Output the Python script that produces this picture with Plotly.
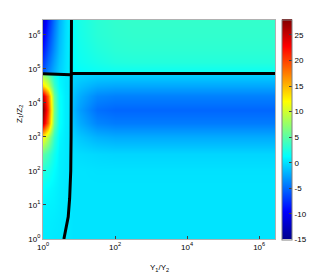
import plotly.graph_objects as go

# log10 positions of the grid (Y1/Y2 along x, Z1/Z2 along y)
x_exp = [0, 0.15, 0.3, 0.45, 0.6, 0.74, 0.82, 1.0, 1.5, 2.0, 2.5, 3.0, 4.0, 5.0, 6.45]
y_exp = [0, 0.5, 1.0, 1.5, 2.0, 2.5, 3.0, 3.4, 3.8, 4.2, 4.5, 4.84, 4.92, 5.2, 5.6, 6.0, 6.45]

z_rows = [
    [0.3, 0.3, 0.2, 0.2, 0.1, 0.1, 0, 0, 0, 0, 0, 0, 0, 0, 0],
    [0.4, 0.4, 0.3, 0.2, 0.1, 0.1, 0, 0, 0, 0, 0, 0, 0, 0, 0],
    [0.7, 0.6, 0.5, 0.3, 0.2, 0.1, 0, 0, 0, 0, 0, 0, 0, 0, 0],
    [1.2, 1.0, 0.7, 0.4, 0.2, 0.1, 0, 0, 0, 0, 0, 0, 0, 0, 0],
    [2.5, 2.0, 1.1, 0.5, 0.2, 0.1, 0, 0, -0.1, -0.1, -0.1, -0.1, -0.1, -0.1, -0.1],
    [5, 3.8, 1.8, 0.6, 0.3, 0.1, -0.2, -0.3, -0.5, -0.6, -0.6, -0.6, -0.6, -0.6, -0.6],
    [12, 8.5, 3.2, 0.9, 0.3, 0.1, -0.8, -1.2, -2.1, -2.4, -2.4, -2.4, -2.4, -2.4, -2.4],
    [25, 18, 5.5, 1.4, 0.4, 0.2, -1.5, -2.3, -4.0, -4.4, -4.4, -4.4, -4.4, -4.4, -4.4],
    [28, 20, 6.0, 1.5, 0.4, 0.2, -1.9, -2.9, -4.9, -5.3, -5.3, -5.3, -5.3, -5.3, -5.3],
    [25, 18, 5.5, 1.4, 0.4, 0.2, -1.5, -2.3, -3.9, -4.2, -4.2, -4.2, -4.2, -4.2, -4.2],
    [13.5, 10, 3.6, 1.0, 0.3, 0.1, -1.0, -1.5, -2.4, -2.6, -2.6, -2.6, -2.6, -2.6, -2.6],
    [7, 5, 2, 0.7, 0.3, 0.1, -0.5, -0.6, -0.8, -0.8, -0.8, -0.8, -0.8, -0.8, -0.8],
    [-6.0, -4.0, -2.2, -0.9, 0.0, 0.6, 1.0, 1.2, 1.5, 1.6, 1.6, 1.6, 1.6, 1.6, 1.6],
    [-7.2, -5.0, -2.8, -1.2, -0.1, 0.6, 1.1, 1.6, 2.1, 2.5, 2.6, 2.6, 2.6, 2.6, 2.6],
    [-8.8, -6.2, -3.6, -1.6, -0.2, 0.6, 1.2, 1.8, 2.5, 2.9, 3.0, 3.0, 3.0, 3.0, 3.0],
    [-10.3, -7.2, -4.2, -1.9, -0.3, 0.6, 1.3, 2.0, 2.8, 3.1, 3.2, 3.2, 3.2, 3.2, 3.2],
    [-11.8, -8.3, -4.8, -2.2, -0.4, 0.6, 1.4, 2.1, 2.9, 3.2, 3.3, 3.3, 3.3, 3.3, 3.3],
]

# black boundary curves (log10 coordinates)
vline_x = [0.58, 0.64, 0.70, 0.74, 0.77, 0.78, 0.78, 0.79, 0.79]
vline_y = [0, 0.3, 0.65, 1.2, 2.0, 3.0, 4.0, 4.87, 6.44]
hline_x = [0, 0.6, 0.76, 0.82, 1.2, 6.44]
hline_y = [4.86, 4.85, 4.83, 4.87, 4.87, 4.87]

x_ticks = [0, 2, 4, 6]
y_ticks = [0, 1, 2, 3, 4, 5, 6]
cb_ticks = [-15, -10, -5, 0, 5, 10, 15, 20, 25]
zmin, zmax = -15, 28

jet = [[0.0, "#00008F"], [0.125, "#0000FF"], [0.375, "#00FFFF"],
       [0.625, "#FFFF00"], [0.875, "#FF0000"], [1.0, "#800000"]]

font = dict(family="Liberation Sans, Arial, sans-serif", size=8, color="black")

fig = go.Figure()
fig.add_trace(go.Heatmap(
    x=x_exp, y=y_exp, z=z_rows, zsmooth="best", colorscale=jet,
    zmin=zmin, zmax=zmax, hoverinfo="skip",
    colorbar=dict(x=1.03, xanchor="left", xpad=0, ypad=0, y=0.5, yanchor="middle",
                  len=1.0045, thickness=10, outlinewidth=1, outlinecolor="#808080",
                  tickvals=cb_ticks, ticktext=[str(v) for v in cb_ticks],
                  ticks="inside", ticklen=3, tickcolor="#404040",
                  tickfont=font),
))
fig.add_trace(go.Scatter(x=vline_x, y=vline_y, mode="lines", hoverinfo="skip",
                         line=dict(color="black", width=3), showlegend=False))
fig.add_trace(go.Scatter(x=hline_x, y=hline_y, mode="lines", hoverinfo="skip",
                         line=dict(color="black", width=3), showlegend=False))

fig.update_xaxes(range=[0, 6.44], tickvals=x_ticks,
                 ticktext=[f"10<sup>{t}</sup>" for t in x_ticks],
                 ticks="inside", ticklen=3, tickcolor="#404040",
                 showgrid=False, zeroline=False, showline=True, mirror=True,
                 linecolor="#b0b0b0", linewidth=1, tickfont=font)
fig.update_yaxes(range=[0, 6.44], tickvals=y_ticks,
                 ticktext=[f"10<sup>{t}</sup>" for t in y_ticks],
                 ticks="inside", ticklen=3, tickcolor="#404040",
                 showgrid=False, zeroline=False, showline=True, mirror=True,
                 linecolor="#b0b0b0", linewidth=1, tickfont=font)

fig.update_layout(
    width=332, height=274,
    margin=dict(l=43, r=57, t=20, b=35),
    paper_bgcolor="white", plot_bgcolor="white",
    showlegend=False,
    annotations=[
        dict(text="Y<sub>1</sub>/Y<sub>2</sub>", xref="paper", yref="paper",
             x=0.5, y=-0.1, xanchor="center", yanchor="top",
             showarrow=False, font=font),
        dict(text="Z<sub>1</sub>/Z<sub>2</sub>", xref="paper", yref="paper",
             x=-0.1, y=0.57, xanchor="center", yanchor="middle",
             textangle=-90, showarrow=False, font=font),
    ],
)

fig.write_html("out.html", config={"displayModeBar": False},
               post_script="document.body.style.margin='0';document.body.style.padding='0';")
